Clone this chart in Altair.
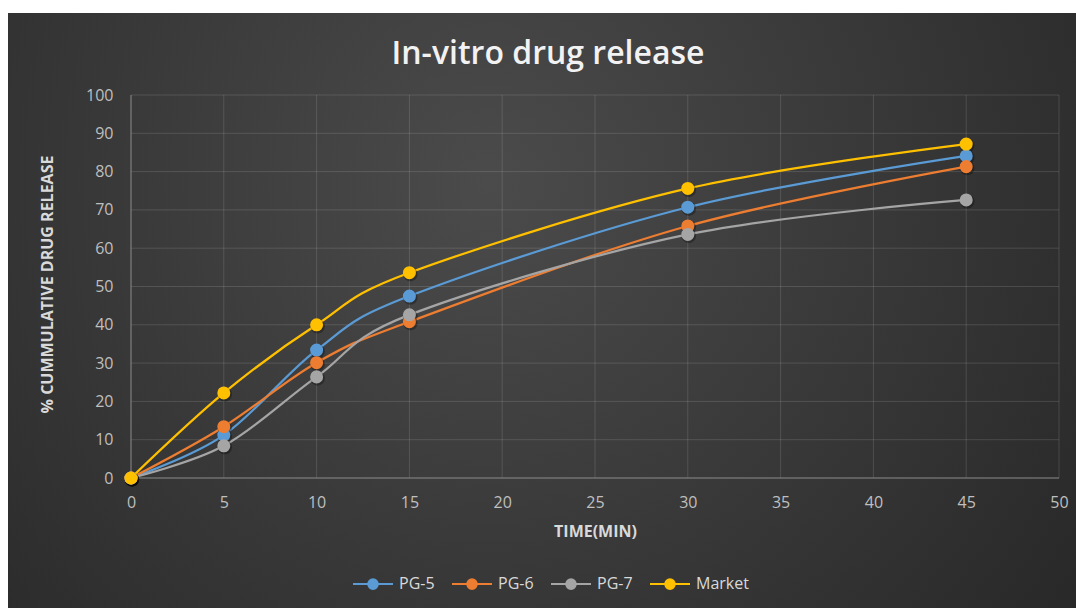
import altair as alt
import pandas as pd

# Sampling times (minutes) and cumulative release (%) per formulation
time_min = [0, 5, 10, 15, 30, 45]
pg5 = [0, 11.2, 33.4, 47.5, 70.7, 84.1]
pg6 = [0, 13.4, 30.1, 40.8, 65.8, 81.3]
pg7 = [0, 8.4, 26.4, 42.6, 63.6, 72.6]
market = [0, 22.2, 40.0, 53.6, 75.6, 87.2]

series_names = ["PG-5", "PG-6", "PG-7", "Market"]
series_colors = ["#5B9BD5", "#ED7D31", "#A5A5A5", "#FFC000"]

x_ticks = [0, 5, 10, 15, 20, 25, 30, 35, 40, 45, 50]
y_ticks = [0, 10, 20, 30, 40, 50, 60, 70, 80, 90, 100]
x_grid = [5, 10, 15, 20, 25, 30, 35, 40, 45, 50]
y_grid = [10, 20, 30, 40, 50, 60, 70, 80, 90, 100]
axis_origin = [0]

FONT = "Open Sans"

rows = []
for name, values in zip(series_names, [pg5, pg6, pg7, market]):
    for t, v in zip(time_min, values):
        rows.append({"series": name, "time": t, "release": v})
df = pd.DataFrame(rows)

x_scale = alt.Scale(domain=[0, 50], nice=False, zero=True)
y_scale = alt.Scale(domain=[0, 100], nice=False, zero=True)
color_scale = alt.Scale(domain=series_names, range=series_colors)

# One axis definition per channel, shared by every layer so they merge cleanly
x_axis = alt.Axis(
    values=x_ticks, title="TIME(MIN)", grid=False, domain=False, ticks=False,
    labelFont=FONT, labelFontSize=16, labelColor="#bfbfbf", labelPadding=16,
    titleFont=FONT, titleFontSize=16, titleFontWeight="bold", titleColor="#d9d9d9",
    titleX=464, titleY=53, titleBaseline="middle", titleAlign="center",
    labelFlush=False, zindex=1,
)
y_axis = alt.Axis(
    values=y_ticks, title="% CUMMULATIVE DRUG RELEASE", grid=False, domain=False,
    ticks=False, labelFont=FONT, labelFontSize=16, labelColor="#bfbfbf",
    labelPadding=18, titleFont=FONT, titleFontSize=16, titleFontWeight="bold",
    titleColor="#d9d9d9", titleX=-84, titleY=189, titleAngle=270,
    titleBaseline="middle", titleAlign="center", labelFlush=False, zindex=1,
)

# Dark radial backdrop for the whole chart card
backdrop_fill = {
    "gradient": "radial",
    "x1": 0.45, "y1": 0.38, "r1": 0,
    "x2": 0.45, "y2": 0.38, "r2": 0.72,
    "stops": [
        {"offset": 0, "color": "#4b4b4b"},
        {"offset": 1, "color": "#262626"},
    ],
}
backdrop = alt.Chart(alt.Data(values=[{}])).mark_rect(fill=backdrop_fill).encode(
    x=alt.value(-123), x2=alt.value(945), y=alt.value(-82), y2=alt.value(513)
)

grid_style = dict(color="#ffffff", opacity=0.13, strokeWidth=1)
v_grid = alt.Chart(pd.DataFrame({"time": x_grid})).mark_rule(**grid_style).encode(
    x=alt.X("time:Q", scale=x_scale, axis=x_axis)
)
h_grid = alt.Chart(pd.DataFrame({"release": y_grid})).mark_rule(**grid_style).encode(
    y=alt.Y("release:Q", scale=y_scale, axis=y_axis)
)
x_line = alt.Chart(pd.DataFrame({"release": axis_origin})).mark_rule(
    color="#8c8c8c", strokeWidth=1.2
).encode(y=alt.Y("release:Q", scale=y_scale, axis=y_axis))
y_line = alt.Chart(pd.DataFrame({"time": axis_origin})).mark_rule(
    color="#8c8c8c", strokeWidth=1
).encode(x=alt.X("time:Q", scale=x_scale, axis=x_axis))

# Legend symbol: a short line with a solid dot in the middle
dot = ""
for r in [0.05, 0.1, 0.15, 0.2, 0.24]:
    dot += f" M {r} 0 A {r} {r} 0 1 1 {-r} 0 A {r} {r} 0 1 1 {r} 0"
legend_symbol = "M -1 0 L 1 0" + dot

x_enc = alt.X("time:Q", scale=x_scale, axis=x_axis)
y_enc = alt.Y("release:Q", scale=y_scale, axis=y_axis)

lines = alt.Chart(df).mark_line(interpolate="cardinal", strokeWidth=2.25).encode(
    x=x_enc,
    y=y_enc,
    color=alt.Color(
        "series:N",
        scale=color_scale,
        sort=series_names,
        legend=alt.Legend(
            title=None, orient="none", legendX=221, legendY=468,
            direction="horizontal", symbolType=legend_symbol, symbolSize=1600,
            symbolStrokeWidth=2, symbolOpacity=1, labelFont=FONT, labelFontSize=16,
            labelColor="#d9d9d9", labelOffset=5, columnPadding=13, padding=0,
            zindex=1,
        ),
    ),
)

shadows = alt.Chart(df).mark_circle(
    size=210, color="#000000", opacity=0.3, xOffset=1, yOffset=1.5
).encode(x=x_enc, y=y_enc)

points = alt.Chart(df).mark_circle(size=170, opacity=1).encode(
    x=x_enc,
    y=y_enc,
    color=alt.Color("series:N", scale=color_scale, legend=None),
)

chart = (
    alt.layer(backdrop, v_grid, h_grid, x_line, y_line, lines, shadows, points)
    .properties(
        width=928,
        height=383,
        autosize="none",
        padding={"left": 131, "top": 95, "right": 17, "bottom": 130},
        title=alt.TitleParams(
            "In-vitro drug release", font=FONT, fontSize=32, fontWeight=600,
            color="#f2f2f2", anchor="middle", frame="group", dx=-47, offset=-58,
            zindex=1,
        ),
    )
    .configure(background="#ffffff")
    .configure_view(stroke=None)
)

chart.save("out.html", embed_options={"renderer": "svg", "actions": False})
